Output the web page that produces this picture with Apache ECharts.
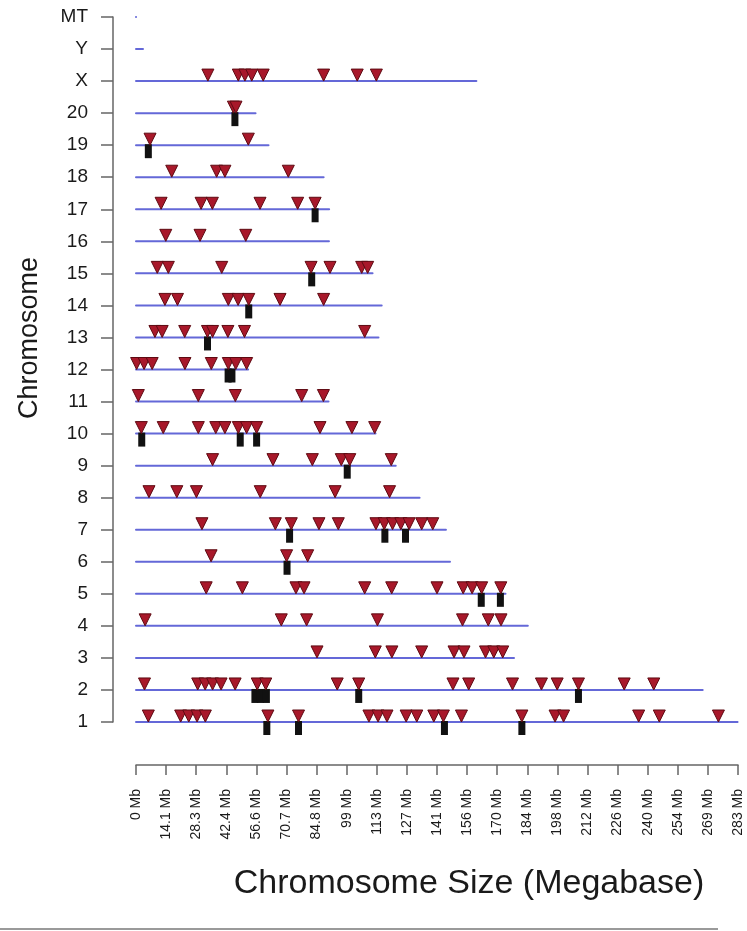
<!DOCTYPE html>
<html>
<head>
<meta charset="utf-8">
<script src="https://cdn.jsdelivr.net/npm/echarts@6/dist/echarts.min.js"></script>
<style>
  html, body { margin: 0; padding: 0; background: #fff; }
  #chart { width: 747px; height: 931px; }
</style>
</head>
<body>
<div id="chart"></div>
<script>
// Chromosome names (bottom to top) and lengths in Mb
const chromosomes = ['1','2','3','4','5','6','7','8','9','10','11','12','13','14','15','16','17','18','19','20','X','Y','MT'];
const chromLengths = [282.8, 266.4, 177.7, 184.2, 173.7, 147.6, 145.7, 133.3, 122.1, 112.6, 90.5, 52.7, 114.0, 115.5, 111.2, 90.7, 90.8, 88.2, 62.3, 56.2, 160.0, 3.3, 0.016];

// X axis tick labels
const xTickLabels = ['0 Mb','14.1 Mb','28.3 Mb','42.4 Mb','56.6 Mb','70.7 Mb','84.8 Mb','99 Mb','113 Mb','127 Mb','141 Mb','156 Mb','170 Mb','184 Mb','198 Mb','212 Mb','226 Mb','240 Mb','254 Mb','269 Mb','283 Mb'];
const xTickStep = 14.15;

// Red triangle marker positions (Mb) per chromosome
const tri1  = [5.8, 21, 24.8, 28.7, 32.6, 62, 76.4, 109.5, 113.8, 118, 127, 132, 140, 144.5, 153, 181.4, 197, 201, 236.3, 246, 273.8];
const tri2  = [4, 29, 32.5, 36, 40, 46.6, 57, 61, 94.6, 104.7, 149, 156.4, 177, 190.6, 198, 208, 229.5, 243.4];
const tri3  = [85.1, 112.5, 120.3, 134.3, 149.5, 154.2, 164.3, 168.2, 172.4];
const tri4  = [4.3, 68.3, 80.2, 113.5, 153.5, 165.6, 171.6];
const tri5  = [33, 50, 75.2, 79, 107.5, 120.2, 141.5, 153.8, 158, 162.5, 171.5];
const tri6  = [35.3, 70.8, 80.7];
const tri7  = [31, 65.5, 73, 86, 95.1, 112.8, 116.7, 120.6, 124.5, 128.4, 134.3, 139.5];
const tri8  = [6.1, 19.2, 28.4, 58.4, 93.6, 119.2];
const tri9  = [36, 64.4, 82.9, 96.5, 100.5, 120];
const tri10 = [2.5, 12.8, 29.3, 37.5, 41.8, 48.1, 52, 56.7, 86.5, 101.5, 112.2];
const tri11 = [1.1, 29.3, 46.7, 77.9, 88.1];
const tri12 = [0.3, 3.8, 7.6, 23, 35.4, 43.4, 46.9, 52];
const tri13 = [8.9, 12.3, 22.9, 33.6, 36, 43.2, 51, 107.5];
const tri14 = [13.6, 19.5, 43.4, 48, 53, 67.7, 88.2];
const tri15 = [10, 15.2, 40.3, 82.3, 91.2, 106.1, 108.9];
const tri16 = [14, 30.1, 51.6];
const tri17 = [11.8, 30.6, 35.9, 58.3, 76, 84.2];
const tri18 = [16.8, 37.9, 41.8, 71.6];
const tri19 = [6.6, 52.8];
const tri20 = [45.8, 47];
const triX  = [33.8, 48.1, 51.2, 54.4, 59.8, 88.2, 104, 113];
const triY  = [];
const triMT = [];
const triangleRows = [tri1, tri2, tri3, tri4, tri5, tri6, tri7, tri8, tri9, tri10, tri11, tri12, tri13, tri14, tri15, tri16, tri17, tri18, tri19, tri20, triX, triY, triMT];

// Black bar marker positions (Mb): chromosome name and position
const barChrom = ['1','1','1','1','2','2','2','2','2','5','5','6','7','7','7','9','10','10','10','12','12','13','14','15','17','19','20'];
const barPos   = [61.5, 76.4, 145, 181.4, 55.9, 58.5, 61.3, 104.7, 208, 162.3, 171.3, 71, 72.2, 117, 126.7, 99.3, 2.7, 49, 56.7, 43.3, 45.1, 33.6, 53, 82.6, 84.2, 5.8, 46.5];

const triData = [];
triangleRows.forEach((row, i) => row.forEach(p => triData.push([p, i + 1])));
const barData = barPos.map((p, k) => [p, chromosomes.indexOf(barChrom[k]) + 1]);
const lineData = chromLengths.map((len, i) => [len, i + 1]);

const chart = echarts.init(document.getElementById('chart'), null, { renderer: 'canvas' });
const font = 'Liberation Sans, Arial, sans-serif';

chart.setOption({
  animation: false,
  backgroundColor: '#ffffff',
  grid: { left: 136, right: 9, top: 17, bottom: 209, containLabel: false },
  xAxis: {
    type: 'value', min: 0, max: 283, interval: xTickStep, offset: 43,
    axisLine: { show: true, onZero: false, lineStyle: { color: '#666', width: 1.5 } },
    axisTick: { show: true, length: 10, lineStyle: { color: '#666', width: 1.5 } },
    splitLine: { show: false },
    axisLabel: {
      rotate: 90, margin: 24, fontSize: 14, color: '#1a1a1a', fontFamily: font,
      formatter: v => xTickLabels[Math.round(v / xTickStep)]
    }
  },
  yAxis: {
    type: 'value', min: 1, max: 23, interval: 1, offset: 23,
    axisLine: { show: true, onZero: false, lineStyle: { color: '#666', width: 1.5 } },
    axisTick: { show: true, length: 12, lineStyle: { color: '#666', width: 1.5 } },
    splitLine: { show: false },
    axisLabel: {
      margin: 25, fontSize: 19, color: '#1a1a1a', fontFamily: font,
      formatter: v => chromosomes[Math.round(v) - 1]
    }
  },
  series: [
    {
      type: 'custom',
      data: lineData,
      clip: false,
      renderItem: (params, api) => {
        const y = api.value(1);
        const a = api.coord([0, y]);
        const b = api.coord([api.value(0), y]);
        return {
          type: 'line',
          shape: { x1: a[0], y1: a[1], x2: b[0], y2: b[1] },
          style: { stroke: '#6468d8', lineWidth: 2, lineCap: 'round' }
        };
      },
      z: 1
    },
    {
      type: 'scatter',
      data: barData,
      symbol: 'rect',
      symbolSize: [7, 14],
      symbolOffset: [0, 6],
      itemStyle: { color: '#111111', opacity: 1 },
      z: 2
    },
    {
      type: 'scatter',
      data: triData,
      symbol: 'path://M0,0 L10,0 L5,10 Z',
      symbolKeepAspect: false,
      symbolSize: [12, 12],
      symbolOffset: [0, -6],
      itemStyle: { color: '#a8182a', borderColor: '#5e0a12', borderWidth: 1, opacity: 1 },
      z: 3
    }
  ],
  graphic: [
    {
      type: 'text', x: 469, y: 884,
      style: { text: 'Chromosome Size (Megabase)', font: '34px ' + font, fill: '#1a1a1a', textAlign: 'center', textVerticalAlign: 'middle' }
    },
    {
      type: 'text', x: 30, y: 338, rotation: Math.PI / 2,
      style: { text: 'Chromosome', font: '27px ' + font, fill: '#1a1a1a', textAlign: 'center', textVerticalAlign: 'middle' }
    },
    {
      type: 'rect', shape: { x: 0, y: 928, width: 718, height: 2 },
      style: { fill: '#9a9a9a' }
    }
  ]
});
</script>
</body>
</html>
